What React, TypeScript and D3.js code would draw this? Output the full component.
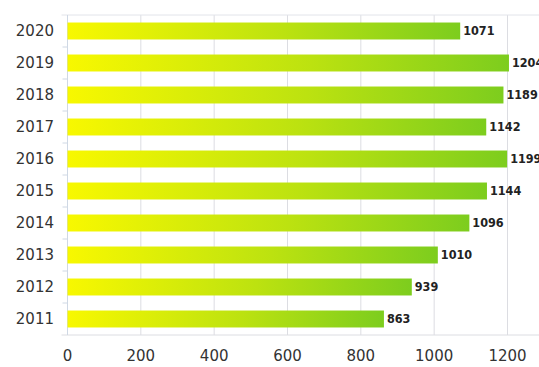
import React from "react";
import * as d3 from "d3";

const years = ["2020", "2019", "2018", "2017", "2016", "2015", "2014", "2013", "2012", "2011"];
const values = [1071, 1204, 1189, 1142, 1199, 1144, 1096, 1010, 939, 863];
const xTicks = [0, 200, 400, 600, 800, 1000, 1200];

export default function App() {
  const W = 539, H = 367;
  const left = 67.5, top = 15, bottom = 335;
  const x = d3.scaleLinear().domain([0, 1200]).range([left, 507.5]);
  const y = d3.scaleBand().domain(years).range([top, bottom]).paddingInner(0.47).paddingOuter(0.235);
  const font = "'DejaVu Sans', Verdana, sans-serif";
  const condFont = "'DejaVu Sans Condensed', 'DejaVu Sans', sans-serif";
  return (
    <svg width={W} height={H} style={{ position: "absolute", left: 0, top: 0, background: "#fff" }}>
      <defs>
        <linearGradient id="barGrad" x1="0" y1="0" x2="1" y2="0">
          <stop offset="0%" stopColor="#f8f800" />
          <stop offset="55%" stopColor="#bce210" />
          <stop offset="100%" stopColor="#7dcd1e" />
        </linearGradient>
      </defs>
      {xTicks.map((t) => (
        <line key={t} x1={x(t)} x2={x(t)} y1={top} y2={bottom} stroke="#dcdde2" strokeWidth={1} />
      ))}
      <line x1={left - 6} x2={W} y1={top} y2={top} stroke="#e2e4ea" />
      <line x1={left - 6} x2={W} y1={bottom} y2={bottom} stroke="#dcdde2" />
      <line x1={left} x2={left} y1={top} y2={bottom} stroke="#cfd8e4" />
      {years.map((yr, i) => {
        const b = (y(yr) as number) - (y.step() * y.paddingInner()) / 2;
        return i > 0 ? <line key={"t" + yr} x1={left - 5} x2={left} y1={b} y2={b} stroke="#cfd8e4" /> : null;
      })}
      {years.map((yr, i) => (
        <g key={yr}>
          <rect x={x(0)} y={y(yr)} width={x(values[i]) - x(0)} height={y.bandwidth()} fill="url(#barGrad)" />
          <text x={x(values[i]) + 3} y={(y(yr) as number) + y.bandwidth() / 2} dy="0.35em" fontSize={12.5} fontWeight={600} fill="#222" fontFamily={condFont}>
            {values[i]}
          </text>
          <text x={54} y={(y(yr) as number) + y.bandwidth() / 2} dy="0.35em" textAnchor="end" fontSize={15} fill="#333" fontFamily={font}>
            {yr}
          </text>
        </g>
      ))}
      {xTicks.map((t) => (
        <text key={"l" + t} x={x(t)} y={356} dy="0.35em" textAnchor="middle" fontSize={15} fill="#333" fontFamily={font}>
          {t}
        </text>
      ))}
    </svg>
  );
}
